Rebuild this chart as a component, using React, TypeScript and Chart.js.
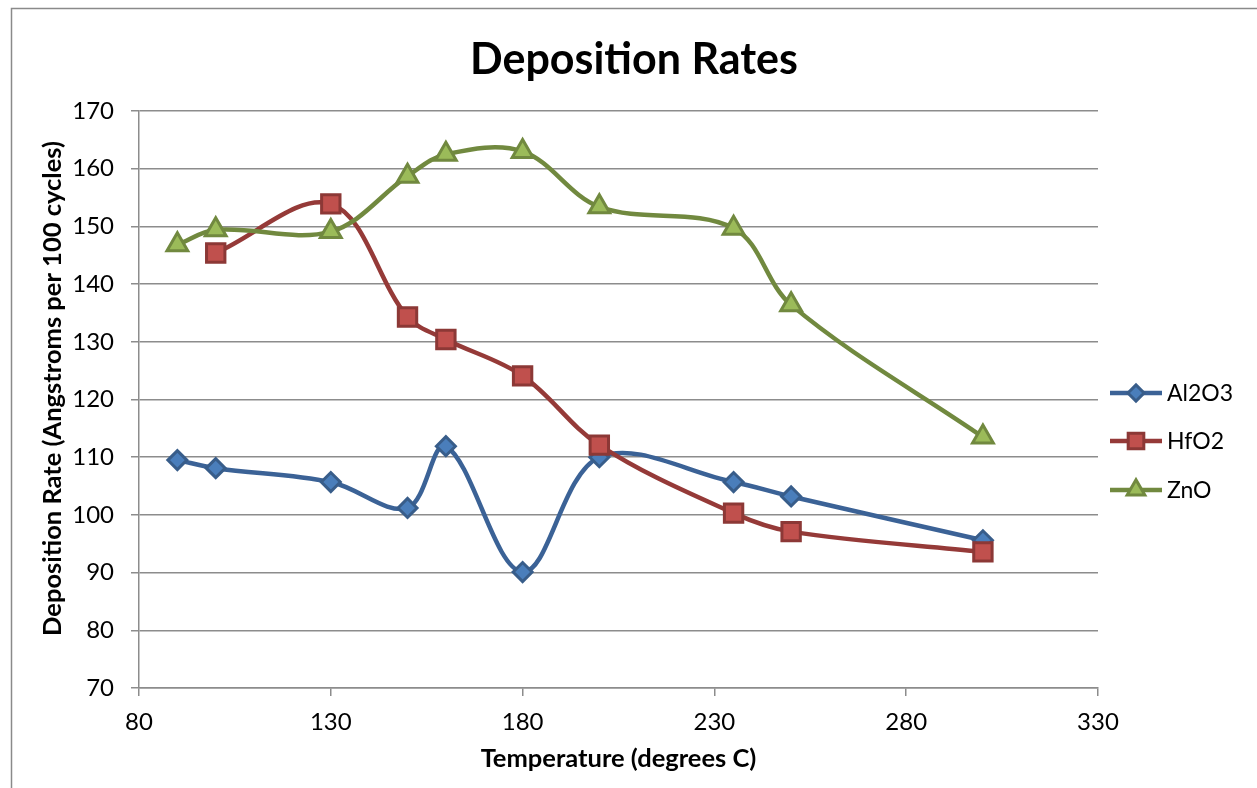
import React, { useEffect, useRef } from 'react';
import { Chart, registerables } from 'chart.js';
import { drawPoint } from 'chart.js/helpers';

Chart.register(...registerables);

// Deposition temperatures (degrees C)
const temperatures = [90, 100, 130, 150, 160, 180, 200, 235, 250, 300];
const hfo2Temperatures = [100, 130, 150, 160, 180, 200, 235, 250, 300];

// Deposition rates (Angstroms per 100 cycles)
const al2o3Rates = [109.5, 108.1, 105.7, 101.2, 111.9, 90.1, 110.0, 105.7, 103.2, 95.6];
const hfo2Rates = [145.4, 153.9, 134.3, 130.4, 124.1, 112.1, 100.3, 97.1, 93.6];
const znoRates = [146.8, 149.4, 149.1, 158.7, 162.5, 163.0, 153.4, 149.7, 136.4, 113.5];

const seriesNames = ['Al2O3', 'HfO2', 'ZnO'];
const xTickValues = [80, 130, 180, 230, 280, 330];
const yTickValues = [70, 80, 90, 100, 110, 120, 130, 140, 150, 160, 170];

const chartTitle = 'Deposition Rates';
const xAxisTitle = 'Temperature (degrees C)';
const yAxisTitle = 'Deposition Rate (Angstroms per 100 cycles)';

const FONT = 'Lato, "Open Sans", sans-serif';
const GRID = '#8c8c8c';

const toPoints = (xs: number[], ys: number[]) => xs.map((x, i) => ({ x, y: ys[i] }));

const seriesStyles = [
  { line: '#3b6296', fill: '#4a7ebb', border: '#385d8a', pointStyle: 'rectRot', radius: 9.5 },
  { line: '#953a38', fill: '#c0504d', border: '#8c3836', pointStyle: 'rect', radius: 13 },
  { line: '#71893f', fill: '#9bbb59', border: '#71893f', pointStyle: 'triangle', radius: 12 },
];

const decorPlugin = {
  id: 'decor',
  beforeDraw(chart: any) {
    const { ctx, width, height } = chart;
    ctx.save();
    ctx.fillStyle = '#ffffff';
    ctx.fillRect(0, 0, width, height);
    // outer chart frame
    ctx.strokeStyle = '#8a8a8a';
    ctx.lineWidth = 1.5;
    ctx.beginPath();
    ctx.moveTo(11.5, height);
    ctx.lineTo(11.5, 8.5);
    ctx.lineTo(width, 8.5);
    ctx.stroke();
    ctx.restore();
  },
  afterDraw(chart: any) {
    const { ctx, chartArea } = chart;
    ctx.save();
    ctx.fillStyle = '#000000';

    // chart title
    ctx.font = `bold 43px ${FONT}`;
    ctx.textAlign = 'center';
    ctx.textBaseline = 'alphabetic';
    ctx.fillText(chartTitle, 634, 74);

    // x axis title
    ctx.font = `bold 25.5px ${FONT}`;
    ctx.fillText(xAxisTitle, (chartArea.left + chartArea.right) / 2, 767);

    // y axis title
    ctx.save();
    ctx.translate(61, 388.5);
    ctx.rotate(-Math.PI / 2);
    ctx.fillText(yAxisTitle, 0, 0);
    ctx.restore();

    // legend
    const lx0 = chartArea.right + 12;
    const lx1 = chartArea.right + 64;
    const ys = [393, 441, 490];
    chart.data.datasets.forEach((ds: any, i: number) => {
      const st = seriesStyles[i];
      const y = ys[i];
      ctx.strokeStyle = st.line;
      ctx.lineWidth = 4.5;
      ctx.beginPath();
      ctx.moveTo(lx0, y);
      ctx.lineTo(lx1, y);
      ctx.stroke();
      ctx.fillStyle = st.fill;
      ctx.strokeStyle = st.border;
      ctx.lineWidth = 3;
      drawPoint(ctx, { pointStyle: st.pointStyle, radius: st.radius * 0.85, borderWidth: 3, rotation: 0 } as any, (lx0 + lx1) / 2, y);
      ctx.fillStyle = '#000000';
      ctx.font = `23px ${FONT}`;
      ctx.textAlign = 'left';
      ctx.textBaseline = 'middle';
      ctx.fillText(ds.label, lx1 + 5, y + 1);
    });
    ctx.restore();
  },
};

export default function App() {
  const canvasRef = useRef<HTMLCanvasElement | null>(null);

  useEffect(() => {
    if (!canvasRef.current) return;
    const seriesData = [
      toPoints(temperatures, al2o3Rates),
      toPoints(hfo2Temperatures, hfo2Rates),
      toPoints(temperatures, znoRates),
    ];
    const chart = new Chart(canvasRef.current, {
      type: 'line',
      data: {
        datasets: seriesNames.map((name, i) => ({
          label: name,
          data: seriesData[i],
          borderColor: seriesStyles[i].line,
          borderWidth: 4.5,
          tension: 0.35,
          pointStyle: seriesStyles[i].pointStyle as any,
          pointRadius: seriesStyles[i].radius,
          pointBackgroundColor: seriesStyles[i].fill,
          pointBorderColor: seriesStyles[i].border,
          pointBorderWidth: 3,
          order: 3 - i,
          clip: false as any,
        })),
      },
      options: {
        responsive: false,
        animation: false,
        events: [],
        layout: { padding: { left: 30, top: 111, right: 159, bottom: 0 } },
        plugins: {
          legend: { display: false },
          title: { display: false },
          tooltip: { enabled: false },
        },
        scales: {
          x: {
            type: 'linear',
            min: 80,
            max: 330,
            afterBuildTicks: (scale: any) => {
              scale.ticks = xTickValues.map((v) => ({ value: v }));
            },
            afterFit: (scale: any) => {
              scale.height = 100;
            },
            grid: { drawOnChartArea: false, drawTicks: true, tickLength: 8, color: GRID, lineWidth: 1.5 },
            border: { display: true, color: GRID, width: 1.5 },
            ticks: { color: '#000', font: { family: FONT, size: 24 }, padding: 12, maxRotation: 0 },
          },
          y: {
            type: 'linear',
            min: 70,
            max: 170,
            afterBuildTicks: (scale: any) => {
              scale.ticks = yTickValues.map((v) => ({ value: v }));
            },
            afterFit: (scale: any) => {
              scale.width = 109;
            },
            grid: { drawOnChartArea: true, drawTicks: true, tickLength: 8, color: GRID, lineWidth: 1.5 },
            border: { display: true, color: GRID, width: 1.5 },
            ticks: { color: '#000', font: { family: FONT, size: 24 }, padding: 17 },
          },
        },
      },
      plugins: [decorPlugin],
    });
    return () => chart.destroy();
  }, []);

  return (
    <div style={{ position: 'absolute', left: 0, top: 0, width: 1257, height: 788, background: '#fff', overflow: 'hidden' }}>
      <canvas ref={canvasRef} width={1257} height={788} style={{ display: 'block' }} />
    </div>
  );
}
